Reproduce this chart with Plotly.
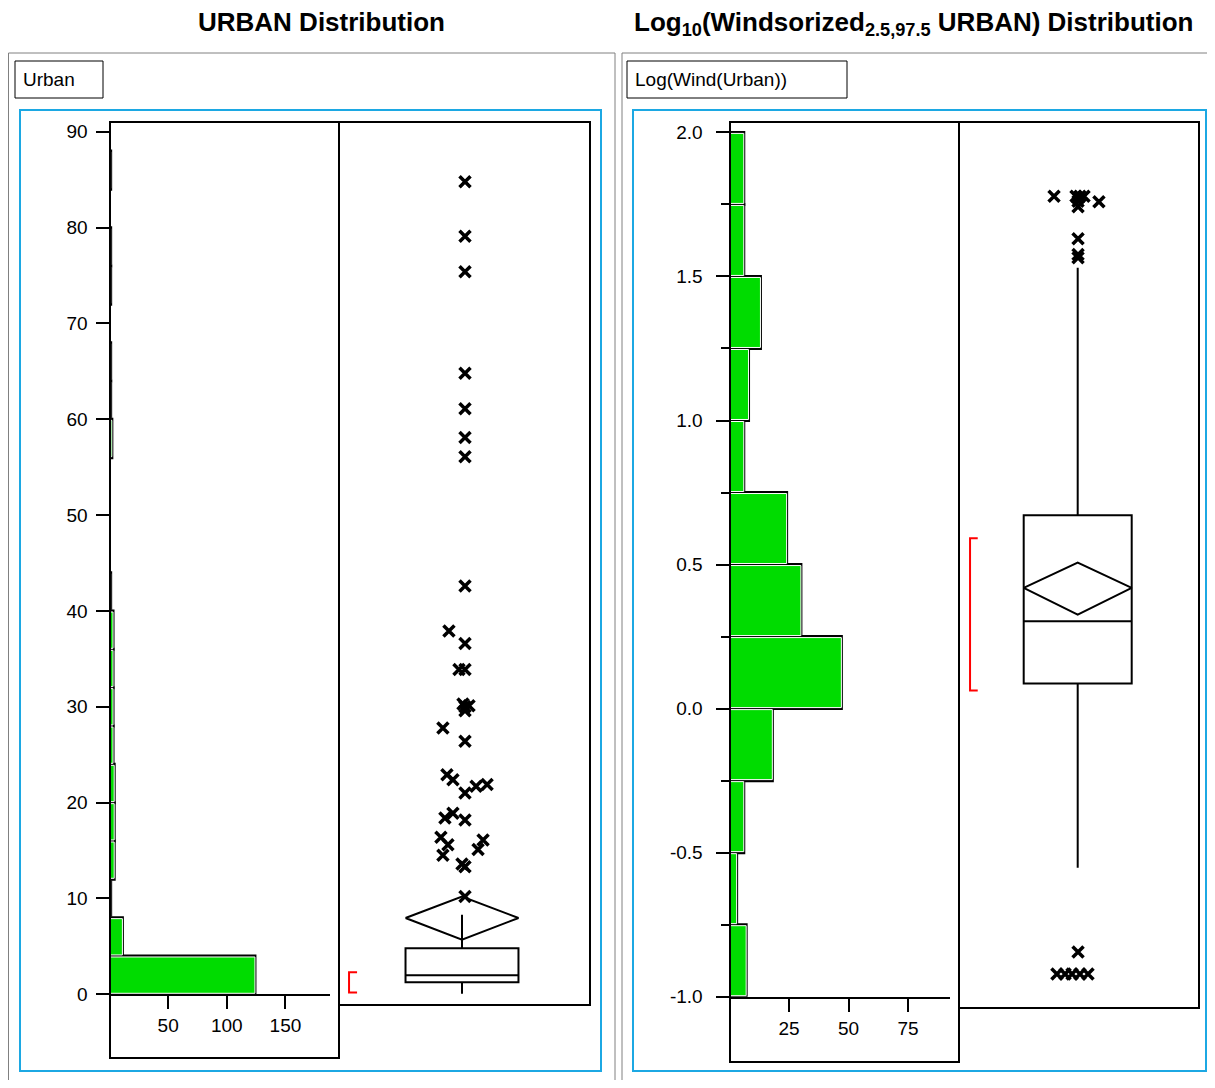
import plotly.graph_objects as go

# page body has an 8px margin; the figure is sized to fill the window exactly,
# and coordinates below are given in window pixels
OFF = 8
W, H = 1215 - 2 * OFF, 1088 - 2 * OFF

# ---------------- data ----------------
# URBAN histogram (bin width 4, starting at 0)
urban_bin_start = [0, 4, 8, 12, 16, 20, 24, 28, 32, 36, 40, 44, 48, 52, 56, 60, 64, 68, 72, 76, 80, 84]
urban_counts = [124, 11, 1, 4, 4, 4, 3, 3, 3, 3, 1, 0, 0, 0, 2, 1, 1, 0, 1, 1, 0, 1]
urban_bin_w = 4

# URBAN box summary
urban_q1, urban_med, urban_q3 = 1.25, 2.0, 4.8
urban_wlo, urban_whi = 0.05, 8.3
urban_mean, urban_ci_lo, urban_ci_hi = 7.96, 5.7, 10.2
urban_short_lo, urban_short_hi = 0.2, 2.3

# URBAN outliers: values and horizontal jitter (box-axis units, 0..1)
urban_out_vals = [84.8, 79.1, 75.4, 64.8, 61.1, 58.1, 56.1, 42.6, 37.9, 36.6, 33.9, 33.9,
                  30.3, 30.1, 30.0, 29.6, 27.8, 26.4, 22.9, 22.4, 21.9, 21.7, 21.0, 18.9,
                  18.4, 18.2, 16.4, 16.1, 15.6, 15.1, 14.5, 13.6, 13.3, 10.2]
urban_out_jit = [0.502, 0.502, 0.502, 0.502, 0.502, 0.502, 0.502, 0.502, 0.438, 0.502, 0.478, 0.502,
                 0.494, 0.518, 0.502, 0.502, 0.414, 0.502, 0.430, 0.454, 0.590, 0.546, 0.502, 0.454,
                 0.422, 0.502, 0.406, 0.574, 0.434, 0.554, 0.414, 0.490, 0.502, 0.502]

# Log10(winsorized URBAN) histogram (bin width 0.25 starting at -1)
log_bin_start = [-1.0, -0.75, -0.5, -0.25, 0.0, 0.25, 0.5, 0.75, 1.0, 1.25, 1.5, 1.75]
log_counts = [7, 3, 6, 18, 47, 30, 24, 6, 8, 13, 6, 6]
log_bin_w = 0.25

log_q1, log_med, log_q3 = 0.087, 0.303, 0.671
log_wlo, log_whi = -0.552, 1.530
log_mean, log_ci_lo, log_ci_hi = 0.419, 0.326, 0.507
log_short_lo, log_short_hi = 0.0625, 0.591

log_out_vals = [1.778, 1.778, 1.778, 1.778, 1.761, 1.759, 1.742, 1.631, 1.576, 1.565,
                -0.845, -0.921, -0.921, -0.921, -0.921, -0.921]
log_out_jit = [0.396, 0.4875, 0.504, 0.521, 0.496, 0.583, 0.496, 0.496, 0.496, 0.496,
               0.496, 0.408, 0.442, 0.471, 0.504, 0.5375]

urban_yticks = [0, 10, 20, 30, 40, 50, 60, 70, 80, 90]
urban_xticks = [50, 100, 150]
log_yticks = [-1.0, -0.5, 0.0, 0.5, 1.0, 1.5, 2.0]
log_ytext = ["-1.0", "-0.5", "0.0", "0.5", "1.0", "1.5", "2.0"]
log_xticks = [25, 50, 75]

# ---------------- helpers ----------------
def px(x):
    return (x - OFF) / W


def py(y):
    return 1 - (y - OFF) / H


GREEN = "#00DC00"
BLUE = "#1CA8E3"
FONT = "Liberation Sans, Arial, sans-serif"

fig = go.Figure()


def add_hist(starts, counts, bw, gap, xa, ya):
    centers = [s + bw / 2 for s in starts]
    fig.add_trace(go.Bar(y=centers, x=counts, base=0, orientation="h", width=bw,
                         marker=dict(color="white", line=dict(color="black", width=3)),
                         xaxis=xa, yaxis=ya, hoverinfo="skip"))
    fig.add_trace(go.Bar(y=centers, x=counts, base=0, orientation="h", width=bw - gap,
                         marker=dict(color=GREEN, line=dict(color="white", width=1)),
                         xaxis=xa, yaxis=ya, hoverinfo="skip"))


def add_box(center, half, q1, med, q3, wlo, whi, mean, clo, chi, slo, shi, bx,
            out_vals, out_jit, xa, ya):
    fig.add_trace(go.Box(x=[center], q1=[q1], median=[med], q3=[q3], lowerfence=[wlo],
                         upperfence=[whi], width=2 * half, whiskerwidth=0,
                         fillcolor="rgba(0,0,0,0)", line=dict(color="black", width=2),
                         boxpoints=False, xaxis=xa, yaxis=ya, hoverinfo="skip"))
    fig.add_trace(go.Scatter(x=[center - half, center, center + half, center, center - half],
                             y=[mean, chi, mean, clo, mean], mode="lines",
                             line=dict(color="black", width=2), xaxis=xa, yaxis=ya,
                             hoverinfo="skip"))
    fig.add_trace(go.Scatter(x=[bx + 0.032, bx, bx, bx + 0.032], y=[shi, shi, slo, slo],
                             mode="lines", line=dict(color="red", width=2),
                             xaxis=xa, yaxis=ya, hoverinfo="skip"))
    fig.add_trace(go.Scatter(x=out_jit, y=out_vals, mode="markers",
                             marker=dict(symbol="x-thin", size=11, color="black",
                                         line=dict(color="black", width=3.5)),
                             xaxis=xa, yaxis=ya, hoverinfo="skip"))


add_hist(urban_bin_start, urban_counts, urban_bin_w, 0.21, "x", "y")
add_box(0.49, 0.225, urban_q1, urban_med, urban_q3, urban_wlo, urban_whi,
        urban_mean, urban_ci_lo, urban_ci_hi, urban_short_lo, urban_short_hi, 0.04,
        urban_out_vals, urban_out_jit, "x2", "y2")
add_hist(log_bin_start, log_counts, log_bin_w, 0.007, "x3", "y3")
add_box(0.4946, 0.225, log_q1, log_med, log_q3, log_wlo, log_whi,
        log_mean, log_ci_lo, log_ci_hi, log_short_lo, log_short_hi, 0.046,
        log_out_vals, log_out_jit, "x4", "y4")

tickfont = dict(family=FONT, size=19, color="black")
axis_common = dict(showgrid=False, zeroline=False, ticks="outside", ticklen=13, tickwidth=2,
                   tickcolor="black", tickfont=tickfont, fixedrange=True, automargin=False)
hidden = dict(range=[0, 1], visible=False, automargin=False, fixedrange=True)

y_left_dom = [py(994.3), py(122)]
y_right_dom = [py(996.7), py(122)]
y_left_rng = [0, (994.3 - 122) / 9.583]
y_right_rng = [-1, -1 + (996.7 - 122) / 288.1]

fig.update_layout(
    width=W, height=H, margin=dict(l=0, r=0, t=0, b=0, pad=0, autoexpand=False), autosize=False,
    paper_bgcolor="white", plot_bgcolor="rgba(0,0,0,0)", showlegend=False,
    barmode="overlay",
    xaxis=dict(domain=[px(109.5), px(330)], range=[0, (330 - 109.5) / 1.173], tickvals=urban_xticks,
               showline=True, linecolor="black", linewidth=2, anchor="y", **axis_common),
    yaxis=dict(domain=y_left_dom, range=y_left_rng, tickvals=urban_yticks, showline=False,
               anchor="x", ticklabelstandoff=4, **axis_common),
    xaxis2=dict(domain=[px(339), px(590)], anchor="y2", **hidden),
    yaxis2=dict(domain=y_left_dom, anchor="x2", **{**hidden, "range": y_left_rng}),
    xaxis3=dict(domain=[px(729.5), px(950)], range=[0, (950 - 729.5) / 2.38], tickvals=log_xticks,
                showline=True, linecolor="black", linewidth=2, anchor="y3", **axis_common),
    yaxis3=dict(domain=y_right_dom, range=y_right_rng, tickvals=log_yticks, ticktext=log_ytext,
                showline=False, anchor="x3", ticklabelstandoff=9,
                minor=dict(dtick=0.25, tick0=0, ticks="outside", ticklen=8, tickwidth=2,
                           tickcolor="black", showgrid=False),
                **axis_common),
    xaxis4=dict(domain=[px(959), px(1199)], anchor="y4", **hidden),
    yaxis4=dict(domain=y_right_dom, anchor="x4", **{**hidden, "range": y_right_rng}),
)


def rect(x0, y0, x1, y1, color, width):
    fig.add_shape(type="rect", xref="paper", yref="paper", x0=px(x0), x1=px(x1),
                  y0=py(y1), y1=py(y0), line=dict(color=color, width=width),
                  fillcolor="rgba(0,0,0,0)", layer="above")


# outer panels
rect(8.5, 53, 615, 1100, "#808080", 1)
rect(622, 53, 1240, 1100, "#808080", 1)
# variable label boxes
rect(15, 61, 103, 98, "black", 1)
rect(627, 61, 847, 98, "black", 1)
# blue selection frames
rect(20, 110, 601, 1071, BLUE, 2)
rect(633, 110, 1206, 1071, BLUE, 2)
# histogram frames and box panels
rect(110, 122, 339, 1058, "black", 2)
rect(339, 122, 590, 1005, "black", 2)
rect(730, 122, 959, 1062, "black", 2)
rect(959, 122, 1199, 1008, "black", 2)

annots = [
    dict(text="<b>URBAN Distribution</b>", x=px(322), y=py(22), size=26, xanchor="center"),
    dict(text="<b>Log<sub>10</sub>(Windsorized<sub>2.5,97.5</sub> URBAN) Distribution</b>",
         x=px(913), y=py(23), size=26, xanchor="center"),
    dict(text="Urban", x=px(21), y=py(80), size=19, xanchor="left"),
    dict(text="Log(Wind(Urban))", x=px(633), y=py(80), size=19, xanchor="left"),
]
for a in annots:
    fig.add_annotation(text=a["text"], x=a["x"], y=a["y"], xref="paper", yref="paper",
                       xanchor=a["xanchor"], yanchor="middle", showarrow=False,
                       font=dict(family=FONT, size=a["size"], color="black"))

fig.write_html("out.html")
